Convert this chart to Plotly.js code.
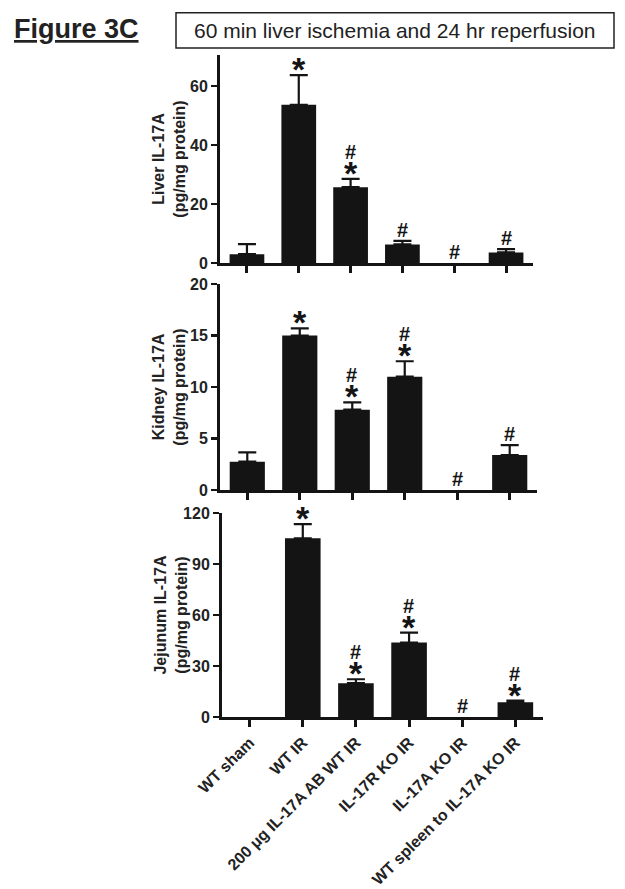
<!DOCTYPE html>
<html>
<head>
<meta charset="utf-8">
<script src="https://cdn.plot.ly/plotly-3.0.1.min.js"></script>
<style>
  html, body { margin: 0; padding: 0; background: #fff; }
  #chart { width: 625px; height: 889px; }
</style>
</head>
<body>
<div id="chart"></div>
<script>
// ---- Data ----
const groups = ["WT sham", "WT IR", "200 \u03bcg IL-17A AB WT IR", "IL-17R KO IR", "IL-17A KO IR", "WT spleen to IL-17A KO IR"];

const liverValues = [3.0, 53.6, 25.7, 6.3, 0, 3.6];
const liverSEM    = [3.4, 10.1, 2.8, 1.2, null, 1.1];
const liverSig    = ["", "*", "#*", "#", "#", "#"];

const kidneyValues = [2.75, 15.0, 7.8, 11.0, 0, 3.4];
const kidneySEM    = [0.9, 0.7, 0.7, 1.5, null, 0.95];
const kidneySig    = ["", "*", "#*", "#*", "#", "#"];

const jejunumValues = [0, 105.1, 19.9, 43.8, 0, 8.7];
const jejunumSEM    = [null, 8.4, 2.3, 5.8, null, 0.9];
const jejunumSig    = ["", "*", "#*", "#*", "#", "#*"];

const liverTicks = [0, 20, 40, 60];
const kidneyTicks = [0, 5, 10, 15, 20];
const jejunumTicks = [0, 30, 60, 90, 120];

// ---- Layout helpers ----
const W = 625, H = 889;
const px = x => x / W;
const py = y => 1 - y / H;
const FONT = "Liberation Sans, Arial, Helvetica, sans-serif";
const INK = "#141414";

function barTrace(vals, sem, xa, ya) {
  return {
    type: "bar", x: groups,
    // zero-height bars are not drawn in the reference
    y: vals.map(v => v === 0 ? null : v),
    xaxis: xa, yaxis: ya,
    width: 0.67,
    marker: { color: INK, line: { width: 0 } },
    error_y: {
      type: "data", symmetric: false,
      array: sem, arrayminus: sem.map(v => v == null ? null : 0),
      color: INK, thickness: 2.2, width: 9
    },
    hoverinfo: "skip", showlegend: false
  };
}

function xAxis(d, ya, showLabels) {
  return {
    domain: d, anchor: ya, type: "category",
    range: [-0.52, 5.52],
    showline: true, linecolor: INK, linewidth: 3,
    ticks: "outside", ticklen: 7, tickwidth: 3, tickcolor: INK,
    showticklabels: showLabels, tickangle: -45,
    tickfont: { family: FONT, size: 16, weight: "bold", color: "#222" },
    showgrid: false, zeroline: false, automargin: false, fixedrange: true
  };
}

function yAxis(d, xa, range, ticks, title) {
  return {
    domain: d, anchor: xa, range: range, tickvals: ticks,
    showline: true, linecolor: INK, linewidth: 3,
    ticks: "outside", ticklen: 6, tickwidth: 2.5, tickcolor: INK,
    tickfont: { family: FONT, size: 16, weight: "bold", color: "#222" },
    title: { text: title, font: { family: FONT, size: 16, weight: "bold", color: "#222" } },
    showgrid: false, zeroline: false, automargin: false, fixedrange: true
  };
}

const data = [
  barTrace(liverValues, liverSEM, "x", "y"),
  barTrace(kidneyValues, kidneySEM, "x2", "y2"),
  barTrace(jejunumValues, jejunumSEM, "x3", "y3")
];

// significance marks: "#" stacked above "*" in one text block
const annotations = [];
function addSig(sig, vals, sem, xa, ya) {
  sig.forEach((s, i) => {
    if (!s) return;
    const base = vals[i] + (sem[i] || 0);
    const hasStar = s.indexOf("*") >= 0;
    const hasHash = s.indexOf("#") >= 0;
    const star = "<span style='font-size:34px'><b>*</b></span>";
    const hash = "<b>#</b>";
    if (hasStar && hasHash) {
      annotations.push({
        xref: xa, yref: ya, x: groups[i], y: base, text: hash + "<br>" + star,
        showarrow: false, yanchor: "bottom", yshift: -15,
        font: { family: FONT, size: 20, color: INK }
      });
    } else if (hasStar) {
      annotations.push({
        xref: xa, yref: ya, x: groups[i], y: base, text: star,
        showarrow: false, yanchor: "middle", yshift: 6,
        font: { family: FONT, size: 20, color: INK }
      });
    } else {
      annotations.push({
        xref: xa, yref: ya, x: groups[i], y: base, text: hash,
        showarrow: false, yanchor: "middle", yshift: 11,
        font: { family: FONT, size: 20, color: INK }
      });
    }
  });
}
addSig(liverSig, liverValues, liverSEM, "x", "y");
addSig(kidneySig, kidneyValues, kidneySEM, "x2", "y2");
addSig(jejunumSig, jejunumValues, jejunumSEM, "x3", "y3");

annotations.push({
  xref: "paper", yref: "paper", x: px(12), y: py(29), xanchor: "left", yanchor: "middle",
  text: "<b><u>Figure 3C</u></b>", showarrow: false,
  font: { family: FONT, size: 27, color: "#222" }
});
annotations.push({
  xref: "paper", yref: "paper", x: px(395), y: py(30.5), xanchor: "center", yanchor: "middle",
  text: "60 min liver ischemia and 24 hr reperfusion", showarrow: false,
  font: { family: FONT, size: 21, color: "#222" }
});

const layout = {
  width: W, height: H,
  margin: { l: 0, r: 0, t: 0, b: 0 },
  paper_bgcolor: "#fff", plot_bgcolor: "rgba(0,0,0,0)",
  xaxis: xAxis([px(220), px(533)], "y", false),
  yaxis: yAxis([py(263), py(55)], "x", [0, 70.5], liverTicks, "Liver IL-17A<br>(pg/mg protein)"),
  xaxis2: xAxis([px(220), px(537)], "y2", false),
  yaxis2: yAxis([py(490), py(284)], "x2", [0, 20], kidneyTicks, "Kidney IL-17A<br>(pg/mg protein)"),
  xaxis3: xAxis([px(222), px(543)], "y3", true),
  yaxis3: yAxis([py(717), py(513)], "x3", [0, 120], jejunumTicks, "Jejunum IL-17A<br>(pg/mg protein)"),
  annotations: annotations,
  shapes: [{
    type: "rect", xref: "paper", yref: "paper",
    x0: px(176), x1: px(614), y0: py(48), y1: py(12.7),
    line: { color: "#222", width: 1.5 }, fillcolor: "rgba(0,0,0,0)"
  }]
};

Plotly.newPlot("chart", data, layout, { staticPlot: true, displayModeBar: false });
</script>
</body>
</html>
